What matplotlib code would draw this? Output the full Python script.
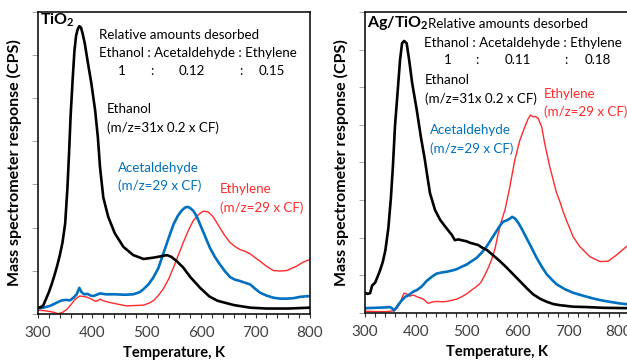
import matplotlib
matplotlib.use('Agg')
import matplotlib.pyplot as plt
import numpy as np

plt.rcParams['font.family'] = ['Lato', 'DejaVu Sans']
plt.rcParams['mathtext.fontset'] = 'custom'
plt.rcParams['mathtext.rm'] = 'Lato'
plt.rcParams['mathtext.bf'] = 'Lato:bold'

BLACK = '#000000'
BLUE = '#0070C0'
RED = '#FF2A2A'

# ---- TiO2 panel (temperature K, response in arbitrary units) ----
ti_eth_T = [300, 305, 310, 315, 320, 325, 330, 335, 340, 345, 350, 354, 357, 360, 364, 367,
            370, 373, 376, 379, 382, 386, 392, 398, 405, 410, 414, 420, 429, 441, 457, 475,
            494, 512, 525, 537, 545, 555, 567, 580, 598, 615, 630, 660, 690, 720, 760, 800]
ti_eth_y = [0.14, 0.15, 0.2, 0.35, 0.5, 0.68, 0.88, 1.1, 1.35, 1.65, 2.1, 2.9, 3.7, 4.6, 5.5, 6.1,
            6.45, 6.6, 6.67, 6.64, 6.5, 6.27, 5.8, 5.35, 4.72, 4.1, 3.4, 2.7, 2.25, 1.87, 1.55, 1.36,
            1.27, 1.3, 1.33, 1.36, 1.32, 1.22, 1.07, 0.85, 0.6, 0.4, 0.3, 0.2, 0.14, 0.12, 0.12, 0.14]

ti_ace_T = [300, 310, 322, 335, 344, 352, 359, 366, 371, 376, 380, 385, 391, 397, 402, 408, 414,
            425, 441, 460, 475, 487, 494, 503, 512, 521, 530, 540, 549, 557, 564, 570, 575, 580,
            586, 592, 598, 607, 616, 625, 634, 644, 653, 662, 671, 680, 690, 699, 708, 720, 733,
            745, 757, 770, 781, 790, 800]
ti_ace_y = [0.125, 0.14, 0.18, 0.26, 0.31, 0.32, 0.31, 0.38, 0.45, 0.6, 0.5, 0.45, 0.46, 0.42, 0.41,
            0.44, 0.47, 0.45, 0.45, 0.44, 0.45, 0.5, 0.57, 0.68, 0.84, 1.05, 1.38, 1.75, 2.07, 2.27,
            2.39, 2.46, 2.48, 2.45, 2.38, 2.25, 2.07, 1.8, 1.53, 1.32, 1.15, 0.98, 0.85, 0.79, 0.76,
            0.72, 0.68, 0.58, 0.49, 0.42, 0.37, 0.35, 0.35, 0.36, 0.39, 0.4, 0.41]

ti_ethy_T = [300, 312, 322, 330, 337, 345, 353, 360, 368, 373, 377, 383, 391, 398, 405, 410, 414,
             420, 432, 447, 463, 478, 494, 503, 512, 521, 530, 540, 549, 558, 567, 576, 585, 595,
             604, 613, 622, 634, 643, 653, 662, 671, 680, 690, 699, 708, 720, 733, 745, 757, 766,
             775, 788, 800]
ti_ethy_y = [0.08, 0.07, 0.05, 0.03, 0.0, 0.03, 0.1, 0.2, 0.33, 0.38, 0.41, 0.4, 0.38, 0.34, 0.29,
             0.3, 0.34, 0.3, 0.26, 0.22, 0.18, 0.19, 0.2, 0.24, 0.3, 0.42, 0.57, 0.8, 1.07, 1.36,
             1.65, 1.92, 2.15, 2.3, 2.38, 2.36, 2.25, 2.0, 1.82, 1.65, 1.56, 1.49, 1.45, 1.39, 1.3,
             1.22, 1.1, 1.0, 0.99, 1.0, 1.05, 1.1, 1.2, 1.26]

# ---- Ag/TiO2 panel ----
ag_eth_T = [300, 305, 310, 314, 320, 329, 335, 340, 346, 351, 355, 359, 364, 369, 373, 377, 382,
            387, 393, 402, 410, 418, 422, 428, 438, 448, 458, 471, 477, 484, 490, 500, 507, 515,
            523, 532, 540, 553, 565, 579, 592, 605, 618, 631, 645, 658, 671, 684, 710, 736, 770, 820]
ag_eth_y = [0.53, 0.5, 0.52, 0.72, 0.8, 1.1, 1.35, 1.65, 2.25, 3.05, 3.9, 4.95, 5.83, 6.72, 7.17,
            7.23, 7.17, 6.72, 6.1, 5.39, 4.68, 4.06, 3.7, 3.18, 2.73, 2.47, 2.29, 2.07, 1.93, 1.95,
            1.93, 1.9, 1.86, 1.83, 1.8, 1.72, 1.67, 1.52, 1.38, 1.2, 1.02, 0.84, 0.66, 0.49, 0.37,
            0.29, 0.23, 0.2, 0.16, 0.15, 0.13, 0.12]

ag_ace_T = [300, 320, 340, 349, 353, 357, 362, 366, 372, 379, 385, 395, 402, 412, 421, 431, 441,
            451, 461, 471, 481, 490, 500, 510, 520, 530, 540, 549, 559, 566, 572, 580, 585, 590,
            596, 602, 610, 618, 628, 638, 648, 658, 668, 677, 693, 710, 730, 749, 765, 782, 800, 820]
ag_ace_y = [0.12, 0.13, 0.14, 0.15, 0.12, 0.06, 0.14, 0.22, 0.32, 0.42, 0.46, 0.56, 0.6, 0.7, 0.84,
            0.95, 1.04, 1.07, 1.09, 1.12, 1.16, 1.22, 1.28, 1.37, 1.46, 1.6, 1.77, 1.96, 2.17, 2.32,
            2.42, 2.46, 2.5, 2.55, 2.5, 2.39, 2.2, 1.99, 1.73, 1.46, 1.23, 1.02, 0.88, 0.76, 0.63,
            0.53, 0.45, 0.38, 0.33, 0.29, 0.25, 0.22]

ag_ethy_T = [300, 320, 343, 357, 363, 369, 373, 377, 382, 388, 395, 405, 415, 424, 432, 441, 451,
             461, 471, 480, 490, 500, 510, 520, 528, 536, 543, 549, 556, 562, 569, 576, 585, 595,
             605, 615, 621, 626, 631, 636, 641, 648, 654, 664, 677, 684, 690, 697, 710, 723, 743,
             763, 779, 795, 815, 820]
ag_ethy_y = [0.04, 0.03, 0.03, 0.05, 0.12, 0.25, 0.4, 0.52, 0.5, 0.44, 0.47, 0.41, 0.36, 0.25,
             0.28, 0.3, 0.29, 0.3, 0.33, 0.36, 0.42, 0.5, 0.6, 0.7, 0.8, 1.0, 1.2, 1.4, 1.7, 2.08,
             2.45, 2.75, 3.33, 4.06, 4.59, 4.95, 5.15, 5.26, 5.21, 5.22, 5.17, 4.95, 4.5, 3.88, 3.2,
             2.95, 2.7, 2.45, 2.02, 1.76, 1.49, 1.36, 1.37, 1.53, 1.76, 1.82]

x_ticks = [300, 400, 500, 600, 700, 800]

fig = plt.figure(figsize=(6.27, 3.62), dpi=100)
ax1 = fig.add_axes([38 / 627, 48.3 / 362, 272 / 627, 301.7 / 362])
ax2 = fig.add_axes([365 / 627, 49.3 / 362, 264 / 627, 300.7 / 362])


def style_axes(ax, xmax, ymax):
    ax.set_xlim(300, xmax)
    ax.set_ylim(0, ymax)
    ax.set_xticks(x_ticks)
    ax.set_xticks(np.arange(300, xmax + 1, 20), minor=True)
    ax.set_yticks(np.arange(0, ymax + 1, 1))
    ax.set_yticklabels([])
    ax.tick_params(axis='x', which='both', direction='out', length=3, width=0.8,
                   color='#333333', labelsize=11, labelcolor='#404040', pad=6)
    ax.tick_params(axis='y', direction='out', length=4, width=0.6, color='#999999')
    for s in ax.spines.values():
        s.set_linewidth(1.1)
    ax.set_xlabel('Temperature, K', fontsize=10.5, fontweight='bold', labelpad=4)
    ax.set_ylabel('Mass spectrometer response (CPS)', fontsize=11.5, fontweight='bold',
                  labelpad=4)


style_axes(ax1, 800, 7)
style_axes(ax2, 820, 8)

ax1.plot(ti_ethy_T, ti_ethy_y, color=RED, lw=1.0)
ax1.plot(ti_ace_T, ti_ace_y, color=BLUE, lw=1.9)
ax1.plot(ti_eth_T, ti_eth_y, color=BLACK, lw=1.9)

ax2.plot(ag_ethy_T, ag_ethy_y, color=RED, lw=1.0)
ax2.plot(ag_ace_T, ag_ace_y, color=BLUE, lw=1.9)
ax2.plot(ag_eth_T, ag_eth_y, color=BLACK, lw=1.9)

fs = 9.6


def ptext(x, y, s, **kw):
    # place text at figure pixel coords (origin top-left)
    fig.text(x / 627, 1 - y / 362, s, fontsize=kw.pop('fontsize', fs), va='center', **kw)


# TiO2 annotations
ptext(40, 20, r'$\mathbf{TiO_2}$', fontsize=11.5)
ptext(99, 35, 'Relative amounts desorbed')
ptext(99, 53, 'Ethanol : Acetaldehyde : Ethylene')
ptext(122, 71, '1', ha='center')
ptext(152, 71, ':', ha='center')
ptext(192, 71, '0.12', ha='center')
ptext(241, 71, ':', ha='center')
ptext(272, 71, '0.15', ha='center')
ptext(107, 109, 'Ethanol')
ptext(107, 128, '(m/z=31x 0.2 x CF)')
ptext(118, 168, 'Acetaldehyde', color=BLUE)
ptext(118, 186, '(m/z=29 x CF)', color=BLUE)
ptext(220, 189, 'Ethylene', color=RED)
ptext(220, 208, '(m/z=29 x CF)', color=RED)

# Ag/TiO2 annotations
ptext(367, 23, r'$\mathbf{Ag/TiO_2}$', fontsize=11.5)
ptext(428, 24, 'Relative amounts desorbed')
ptext(424, 43, 'Ethanol : Acetaldehyde : Ethylene')
ptext(448, 60, '1', ha='center')
ptext(477, 60, ':', ha='center')
ptext(518, 60, '0.11', ha='center')
ptext(566, 60, ':', ha='center')
ptext(598, 60, '0.18', ha='center')
ptext(425, 80, 'Ethanol')
ptext(425, 99, '(m/z=31x 0.2 x CF)')
ptext(430, 130, 'Acetaldehyde', color=BLUE)
ptext(430, 149, '(m/z=29 x CF)', color=BLUE)
ptext(544, 94, 'Ethylene', color=RED)
ptext(544, 112, '(m/z=29 x CF)', color=RED)

fig.savefig('out.png', dpi=100)
